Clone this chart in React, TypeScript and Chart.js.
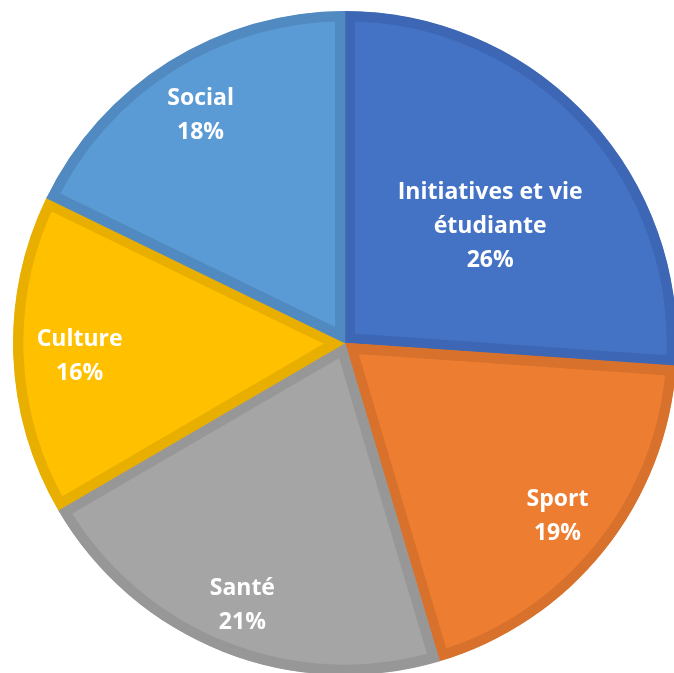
import React, { useEffect, useRef } from "react";
import { Chart, registerables } from "chart.js";

Chart.register(...registerables);

const categories = ["Initiatives et vie étudiante", "Sport", "Santé", "Culture", "Social"];
const values = [26.1, 19.3, 21.2, 15.6, 17.8];
const fillColors = ["#4472C4", "#ED7D31", "#A5A5A5", "#FFC000", "#5B9BD5"];
const borderColors = ["#3D67B4", "#D7712B", "#979797", "#E8AE00", "#5189C1"];
const labelRadiusFractions = [0.566, 0.82, 0.84, 0.8, 0.82];
const labelAngleShiftDeg = [3.6, 0, 0, 0, 0];

const FONT = "bold 23px 'Open Sans', sans-serif";

function wrapText(ctx: CanvasRenderingContext2D, text: string, maxWidth: number): string[] {
  const words = text.split(" ");
  const lines: string[] = [];
  let cur = "";
  for (const w of words) {
    const test = cur ? cur + " " + w : w;
    if (ctx.measureText(test).width > maxWidth && cur) {
      lines.push(cur);
      cur = w;
    } else {
      cur = test;
    }
  }
  if (cur) lines.push(cur);
  return lines;
}

const labelPlugin = {
  id: "sliceLabels",
  afterDatasetsDraw(chart: any) {
    const ctx: CanvasRenderingContext2D = chart.ctx;
    const meta = chart.getDatasetMeta(0);
    const data = chart.data.datasets[0].data as number[];
    const total = data.reduce((a, b) => a + b, 0);
    ctx.save();
    ctx.font = FONT;
    ctx.fillStyle = "#FFFFFF";
    ctx.textAlign = "center";
    ctx.textBaseline = "middle";
    const lineH = 34;
    const baselineNudge = 3;
    meta.data.forEach((arc: any, i: number) => {
      const p = arc.getProps(["x", "y", "startAngle", "endAngle", "outerRadius"], true);
      const mid = (p.startAngle + p.endAngle) / 2 + (labelAngleShiftDeg[i] * Math.PI) / 180;
      const r = p.outerRadius * labelRadiusFractions[i];
      const cx = p.x + Math.cos(mid) * r;
      const cy = p.y + Math.sin(mid) * r + baselineNudge;
      const lines = wrapText(ctx, categories[i], 220);
      lines.push(Math.round((data[i] / total) * 100) + "%");
      const startY = cy - ((lines.length - 1) * lineH) / 2;
      lines.forEach((ln, k) => ctx.fillText(ln, cx, startY + k * lineH));
    });
    ctx.restore();
  },
};

export default function App() {
  const ref = useRef<HTMLCanvasElement>(null);
  useEffect(() => {
    if (!ref.current) return;
    const chart = new Chart(ref.current, {
      type: "pie",
      data: {
        labels: categories,
        datasets: [
          {
            data: values,
            backgroundColor: fillColors,
            borderColor: borderColors,
            borderWidth: 10,
            borderAlign: "inner",
            radius: 332,
          } as any,
        ],
      },
      options: {
        responsive: false,
        animation: false,
        layout: { padding: 11 },
        plugins: { legend: { display: false }, tooltip: { enabled: false } },
      },
      plugins: [labelPlugin],
    });
    return () => chart.destroy();
  }, []);
  return (
    <div style={{ position: "absolute", left: 0, top: 0, width: 674, height: 673, overflow: "hidden", background: "#fff" }}>
      <canvas ref={ref} width={690} height={686} style={{ position: "absolute", left: 0, top: 0, width: 690, height: 686 }} />
    </div>
  );
}
